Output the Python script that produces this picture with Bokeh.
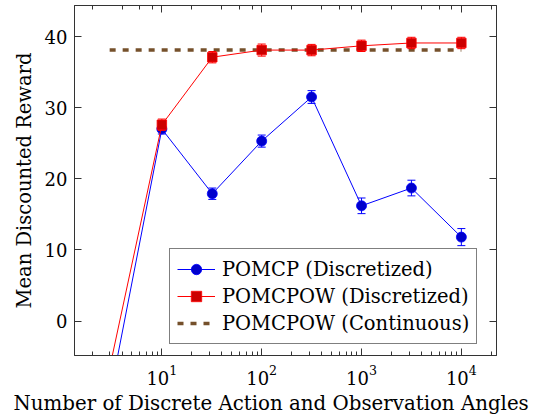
from bokeh.plotting import figure
from bokeh.models import (Range1d, LogAxis, LinearAxis, FixedTicker, LogTicker,
                          Legend, LegendItem, CustomJSTickFormatter, Title)
from bokeh.embed import file_html
from bokeh.resources import INLINE

# ---- data ----
angles = [3, 10, 32, 100, 316, 1000, 3162, 10000]
pomcp_mean = [-10.7, 27.0, 17.9, 25.3, 31.5, 16.2, 18.7, 11.8]
pomcp_err = [0.8, 0.7, 0.8, 0.85, 0.9, 1.1, 1.1, 1.2]
pomcpow_mean = [-6.6, 27.6, 37.1, 38.1, 38.1, 38.7, 39.1, 39.1]
pomcpow_err = [0.8, 0.8, 0.8, 0.85, 0.8, 0.8, 0.8, 0.8]
continuous_x = [3, 10000]
continuous_mean = [38.1, 38.1]
y_ticks = [0, 10, 20, 30, 40]

labels = ["POMCP (Discretized)", "POMCPOW (Discretized)", "POMCPOW (Continuous)"]
x_label = "Number of Discrete Action and Observation Angles"
y_label = "Mean Discounted Reward"

FONT = "DejaVu Serif"
FS = "19.5px"
TFS = "18px"
AX = "#333333"

p = figure(frame_width=422, frame_height=350, x_axis_type="log",
           x_range=Range1d(10 ** 0.125, 10 ** 4.352), y_range=Range1d(-4.85, 44.37),
           output_backend="svg", toolbar_location=None,
           min_border_left=74, min_border_right=38, min_border_top=5, min_border_bottom=58)
p.grid.visible = False
p.outline_line_color = AX
p.background_fill_color = "white"
p.border_fill_color = "white"


def style_axis(ax):
    ax.axis_line_color = AX
    ax.major_tick_line_color = AX
    ax.minor_tick_line_color = AX
    ax.major_tick_in = 7
    ax.major_tick_out = 0
    ax.minor_tick_in = 4
    ax.minor_tick_out = 0
    ax.major_label_text_font = FONT
    ax.major_label_text_font_size = TFS
    ax.major_label_text_color = "black"
    ax.axis_label_text_font = FONT
    ax.axis_label_text_font_size = FS
    ax.axis_label_text_font_style = "normal"
    ax.axis_label_text_color = "black"


xa = p.xaxis[0]
style_axis(xa)
xa.major_label_standoff = 9

xt = Title(text=x_label, align="left", offset=-61, standoff=4,
           text_font=FONT, text_font_size="19.8px", text_font_style="normal",
           text_color="black")
p.add_layout(xt, "below")

ya = p.yaxis[0]
style_axis(ya)
ya.ticker = FixedTicker(ticks=y_ticks, minor_ticks=[])
ya.axis_label = y_label
ya.major_label_standoff = 7
ya.axis_label_standoff = 6

empty = CustomJSTickFormatter(code="return ''")
top = LogAxis(ticker=LogTicker(), formatter=empty)
style_axis(top)
top.major_label_text_font_size = "0px"
top.major_label_standoff = 0
p.add_layout(top, "above")

right = LinearAxis(ticker=FixedTicker(ticks=y_ticks, minor_ticks=[]), formatter=empty)
style_axis(right)
right.major_label_text_font_size = "0px"
right.major_label_standoff = 0
p.add_layout(right, "right")

# ---- continuous line ----
lc = p.line(continuous_x, continuous_mean, line_color="#75502b", line_width=3.5, line_dash="6 7")

# ---- series with error bars ----
def series(mean, err, color, fill, marker, size):
    lo = [m - e for m, e in zip(mean, err)]
    hi = [m + e for m, e in zip(mean, err)]
    p.segment(angles, lo, angles, hi, line_color=color, line_width=1)
    p.scatter(angles, lo, marker="dash", size=8, line_color=color, line_width=1)
    p.scatter(angles, hi, marker="dash", size=8, line_color=color, line_width=1)
    ln = p.line(angles, mean, line_color=color, line_width=1)
    sc = p.scatter(angles, mean, marker=marker, size=size, fill_color=fill,
                   line_color=color, line_width=0.8)
    return ln, sc

lb, sb = series(pomcp_mean, pomcp_err, "#0000ff", "#0000cc", "circle", 10)
lr, sr = series(pomcpow_mean, pomcpow_err, "#ff0000", "#cc0000", "square", 9.5)

legend = Legend(items=[LegendItem(label=labels[0], renderers=[lb, sb]),
                       LegendItem(label=labels[1], renderers=[lr, sr]),
                       LegendItem(label=labels[2], renderers=[lc])],
                location=(95, 11))
legend.border_line_color = "black"
legend.border_line_width = 1
legend.background_fill_color = "white"
legend.background_fill_alpha = 1
legend.label_text_font = FONT
legend.label_text_font_size = FS
legend.label_text_color = "black"
legend.glyph_width = 38
legend.glyph_height = 26
legend.label_height = 26
legend.label_standoff = 7
legend.padding = 7
legend.spacing = 1
legend.margin = 0
p.add_layout(legend)

open("out.html", "w").write(file_html(p, INLINE))
